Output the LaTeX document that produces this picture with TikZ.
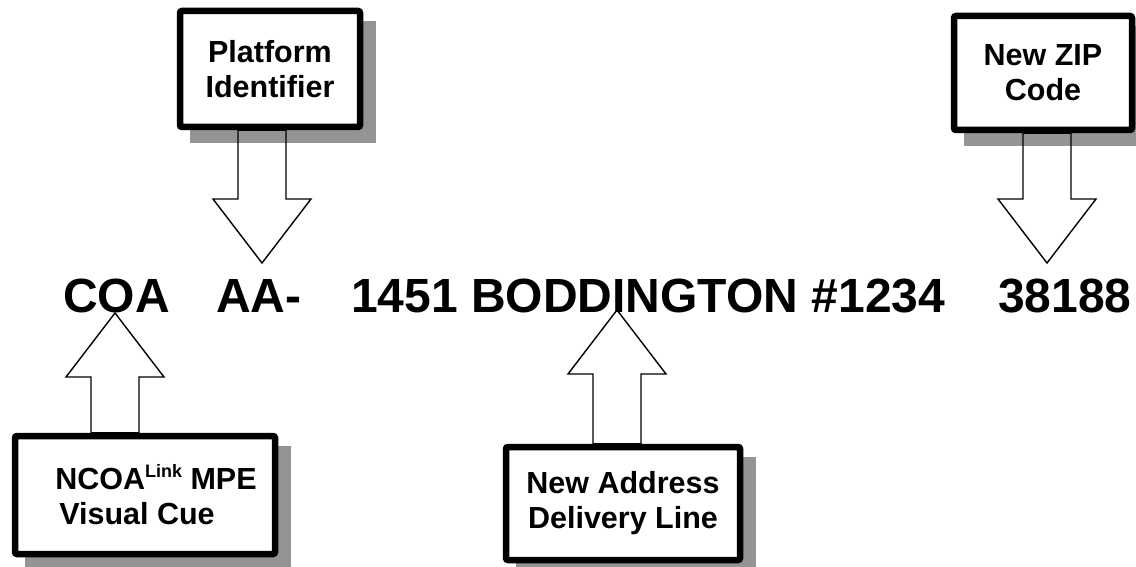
\documentclass[tikz,border=0pt]{standalone}
\usepackage{fontspec}
\setmainfont{Liberation Sans}
\usetikzlibrary{calc,backgrounds}

% hollow block arrow from the foot (#1) to the tip (#2)
\newcommand{\fatarrow}[2]{%
  \draw[blockarrow] let \p1=(#1), \p2=(#2), \p3=($(#2)!64pt!(#1)$) in
    (\x1-24pt,\y1) -- (\x1-24pt,\y3) -- (\x1-49pt,\y3) -- (\x2,\y2)
    -- (\x1+49pt,\y3) -- (\x1+24pt,\y3) -- (\x1+24pt,\y1) -- cycle;}

\begin{document}
\begin{tikzpicture}[x=1pt, y=-1pt, every node/.style={inner sep=0pt}, infobox/.style={draw, line width=6.5pt, rounded corners=2pt, fill=white, align=center, font=\fontsize{30.5}{35}\selectfont\bfseries}, codetext/.style={anchor=base west, font=\fontsize{48}{58}\selectfont\bfseries}, blockarrow/.style={draw, line width=1.4pt, line join=miter}]
\useasboundingbox (0,0) rectangle (1136,567);
% the forwarded address line
\node[codetext] (coa) at (63,312) {COA};
\node[codetext] (aa) at (216,312) {AA-};
\node[codetext] (addr) at (351,312) {1451 BODDINGTON \#1234};
\node[codetext] (zip) at (998,312) {38188};
% callout boxes
\node[infobox, minimum width=180, minimum height=116] (platform) at (270,69) {Platform\\Identifier};
\node[infobox, minimum width=260, minimum height=118, align=left] (visualcue) at (145,495) {\hspace*{22pt}NCOA\raisebox{12pt}{\fontsize{18}{18}\selectfont Link} MPE\\\hspace*{26pt}Visual Cue};
\node[infobox, minimum width=234, minimum height=113] (newaddr) at (623,503.5) {New Address\\Delivery Line};
\node[infobox, minimum width=178, minimum height=114] (newzip) at (1043,73) {New ZIP\\Code};
\begin{scope}[on background layer]
\foreach \b in {platform,visualcue,newaddr,newzip}
  \fill[black!42] ($(\b.south west)+(13,13)$) rectangle ($(\b.north east)+(13,13)$);
\end{scope}
% arrow tips
\coordinate (piTip) at (262,263);
\coordinate (cueTip) at (115,313);
\coordinate (addrTip) at (617,310);
\coordinate (zipTip) at (1047,263);
\fatarrow{piTip |- platform.south}{piTip}
\fatarrow{cueTip |- visualcue.north}{cueTip}
\fatarrow{addrTip |- newaddr.north}{addrTip}
\fatarrow{zipTip |- newzip.south}{zipTip}
\end{tikzpicture}
\end{document}
